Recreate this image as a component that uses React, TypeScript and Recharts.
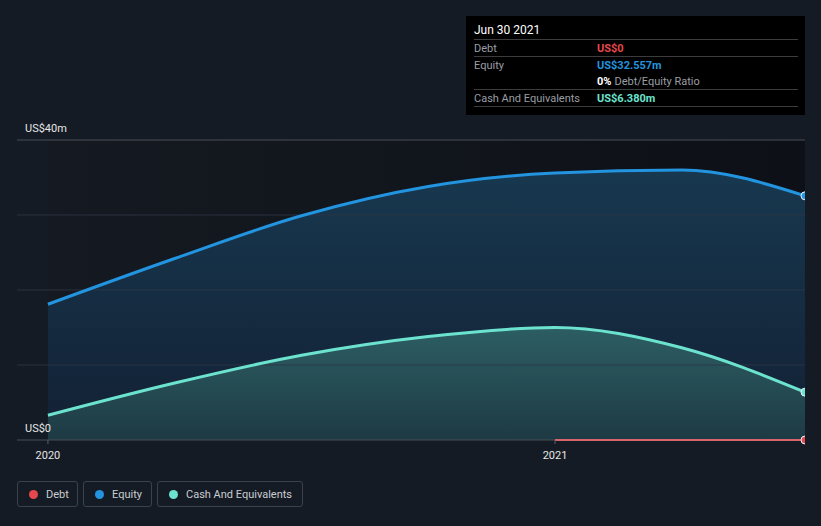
import { Area, ComposedChart, Line, ReferenceArea, ReferenceLine, XAxis, YAxis } from "recharts";

// quarter ends, as fractional years (last one is Jun 30 2021)
const periods = [2020.0, 2020.25, 2020.5, 2020.75, 2021.0, 2021.25, 2021.493];
const equity = [18.1, 24.2, 29.9, 33.8, 35.6, 36.0, 32.557];
const cash = [3.3, 7.6, 11.3, 13.8, 15.0, 12.3, 6.38];
const debt = [null, null, null, null, 0, 0, 0];
const yearTicks = [2020, 2021];
const innerTicks = [10, 20, 30];

const data = periods.map((t, i) => ({ t, equity: equity[i], cash: cash[i], debt: debt[i] }));
const last = periods.length - 1;

const FONT = "Roboto, 'Noto Sans', sans-serif";

function endDot(color: string) {
  return (props: any) => {
    if (props.index !== last) return <g key={props.index} />;
    return <circle key={props.index} cx={props.cx} cy={props.cy} r={4} fill={color} stroke="#e8f4ff" strokeWidth={1} />;
  };
}

function yLabel(text: string) {
  return (props: any) => (
    <text x={25} y={props.viewBox.y - 8} fill="#e6e6e6" fontSize={11} fontFamily={FONT}>
      {text}
    </text>
  );
}

function XTick({ x, y, payload }: any) {
  return (
    <text x={x} y={y + 13} fill="#e6e6e6" fontSize={11} fontFamily={FONT} textAnchor="middle">
      {payload.value}
    </text>
  );
}

function Legend() {
  const items = [
    { label: "Debt", color: "#e5484d", w: 61 },
    { label: "Equity", color: "#2394df", w: 69 },
    { label: "Cash And Equivalents", color: "#6ce3cf", w: 146 },
  ];
  return (
    <div style={{ position: "absolute", left: 17, top: 481, display: "flex", gap: 5 }}>
      {items.map((it) => (
        <div key={it.label} style={{ width: it.w, height: 26, boxSizing: "border-box", border: "1px solid #3b424c", borderRadius: 3, display: "flex", alignItems: "center", paddingLeft: 11, fontFamily: FONT, fontSize: 11, color: "#c9cdd2" }}>
          <span style={{ width: 9, height: 9, borderRadius: "50%", background: it.color, marginRight: 8 }} />
          {it.label}
        </div>
      ))}
    </div>
  );
}

function InfoBox() {
  const sep = { height: 1, background: "#3c3c3c" };
  const row = { display: "flex", height: 16, alignItems: "center" };
  const lab = { width: 123, color: "#9a9ea4" };
  return (
    <div style={{ position: "absolute", left: 466, top: 16, width: 339, height: 99, background: "#000", boxSizing: "border-box", padding: "6px 7px 0 8px", fontFamily: FONT, fontSize: 11 }}>
      <div style={{ color: "#fff", fontSize: 12, height: 17, lineHeight: "17px" }}>Jun 30 2021</div>
      <div style={sep} />
      <div style={row}>
        <span style={lab}>Debt</span>
        <b style={{ color: "#e5484d" }}>US$0</b>
      </div>
      <div style={sep} />
      <div style={row}>
        <span style={lab}>Equity</span>
        <b style={{ color: "#2394df" }}>US$32.557m</b>
      </div>
      <div style={row}>
        <span style={lab} />
        <b style={{ color: "#fff" }}>0%</b>
        <span style={{ color: "#9a9ea4", marginLeft: 3 }}>Debt/Equity Ratio</span>
      </div>
      <div style={sep} />
      <div style={row}>
        <span style={lab}>Cash And Equivalents</span>
        <b style={{ color: "#6ce3cf" }}>US$6.380m</b>
      </div>
      <div style={sep} />
    </div>
  );
}

export default function App() {
  return (
    <div style={{ position: "absolute", left: 0, top: 0, width: 821, height: 526, background: "#151b24", overflow: "hidden" }}>
      <ComposedChart width={821} height={526} data={data} margin={{ top: 140, right: 16, left: 17, bottom: 56 }}>
        <defs>
          <linearGradient id="bgGrad" x1="0" y1="0" x2="1" y2="0">
            <stop offset="0%" stopColor="#151a22" />
            <stop offset="100%" stopColor="#0d1016" />
          </linearGradient>
          <linearGradient id="eqGrad" x1="0" y1="0" x2="0" y2="1">
            <stop offset="0%" stopColor="#17384f" />
            <stop offset="100%" stopColor="#132034" />
          </linearGradient>
          <linearGradient id="cashGrad" x1="0" y1="0" x2="0" y2="1">
            <stop offset="0%" stopColor="#2c5e63" />
            <stop offset="100%" stopColor="#1e3a44" />
          </linearGradient>
        </defs>
        <XAxis dataKey="t" type="number" domain={[2019.939, 2021.493]} ticks={yearTicks} tick={<XTick />} tickLine={{ stroke: "#5a6068" }} tickSize={4} axisLine={false} height={30} allowDataOverflow />
        <YAxis type="number" domain={[0, 40]} width={0} tick={false} axisLine={false} tickLine={false} />
        <ReferenceArea x1={2020} x2={2021.493} y1={0} y2={40} fill="url(#bgGrad)" fillOpacity={1} stroke="none" ifOverflow="hidden" />
        <Area type="monotone" dataKey="equity" stroke="none" fill="url(#eqGrad)" fillOpacity={1} isAnimationActive={false} />
        <Area type="monotone" dataKey="cash" stroke="none" fill="url(#cashGrad)" fillOpacity={1} isAnimationActive={false} />
        {innerTicks.map((v) => (
          <ReferenceLine key={v} y={v} stroke="#2d3744" strokeOpacity={0.85} />
        ))}
        <ReferenceLine y={40} stroke="#4a4e55" label={yLabel("US$40m")} />
        <ReferenceLine y={0} stroke="#4a4e55" label={yLabel("US$0")} />
        <Line type="monotone" dataKey="equity" stroke="#2394df" strokeWidth={3} dot={endDot("#2394df")} activeDot={false} isAnimationActive={false} />
        <Line type="monotone" dataKey="cash" stroke="#6ce3cf" strokeWidth={3} dot={endDot("#6ce3cf")} activeDot={false} isAnimationActive={false} />
        <Line type="linear" dataKey="debt" stroke="#d8636a" strokeWidth={2} dot={endDot("#e5484d")} activeDot={false} connectNulls={false} isAnimationActive={false} />
      </ComposedChart>
      <InfoBox />
      <Legend />
    </div>
  );
}
